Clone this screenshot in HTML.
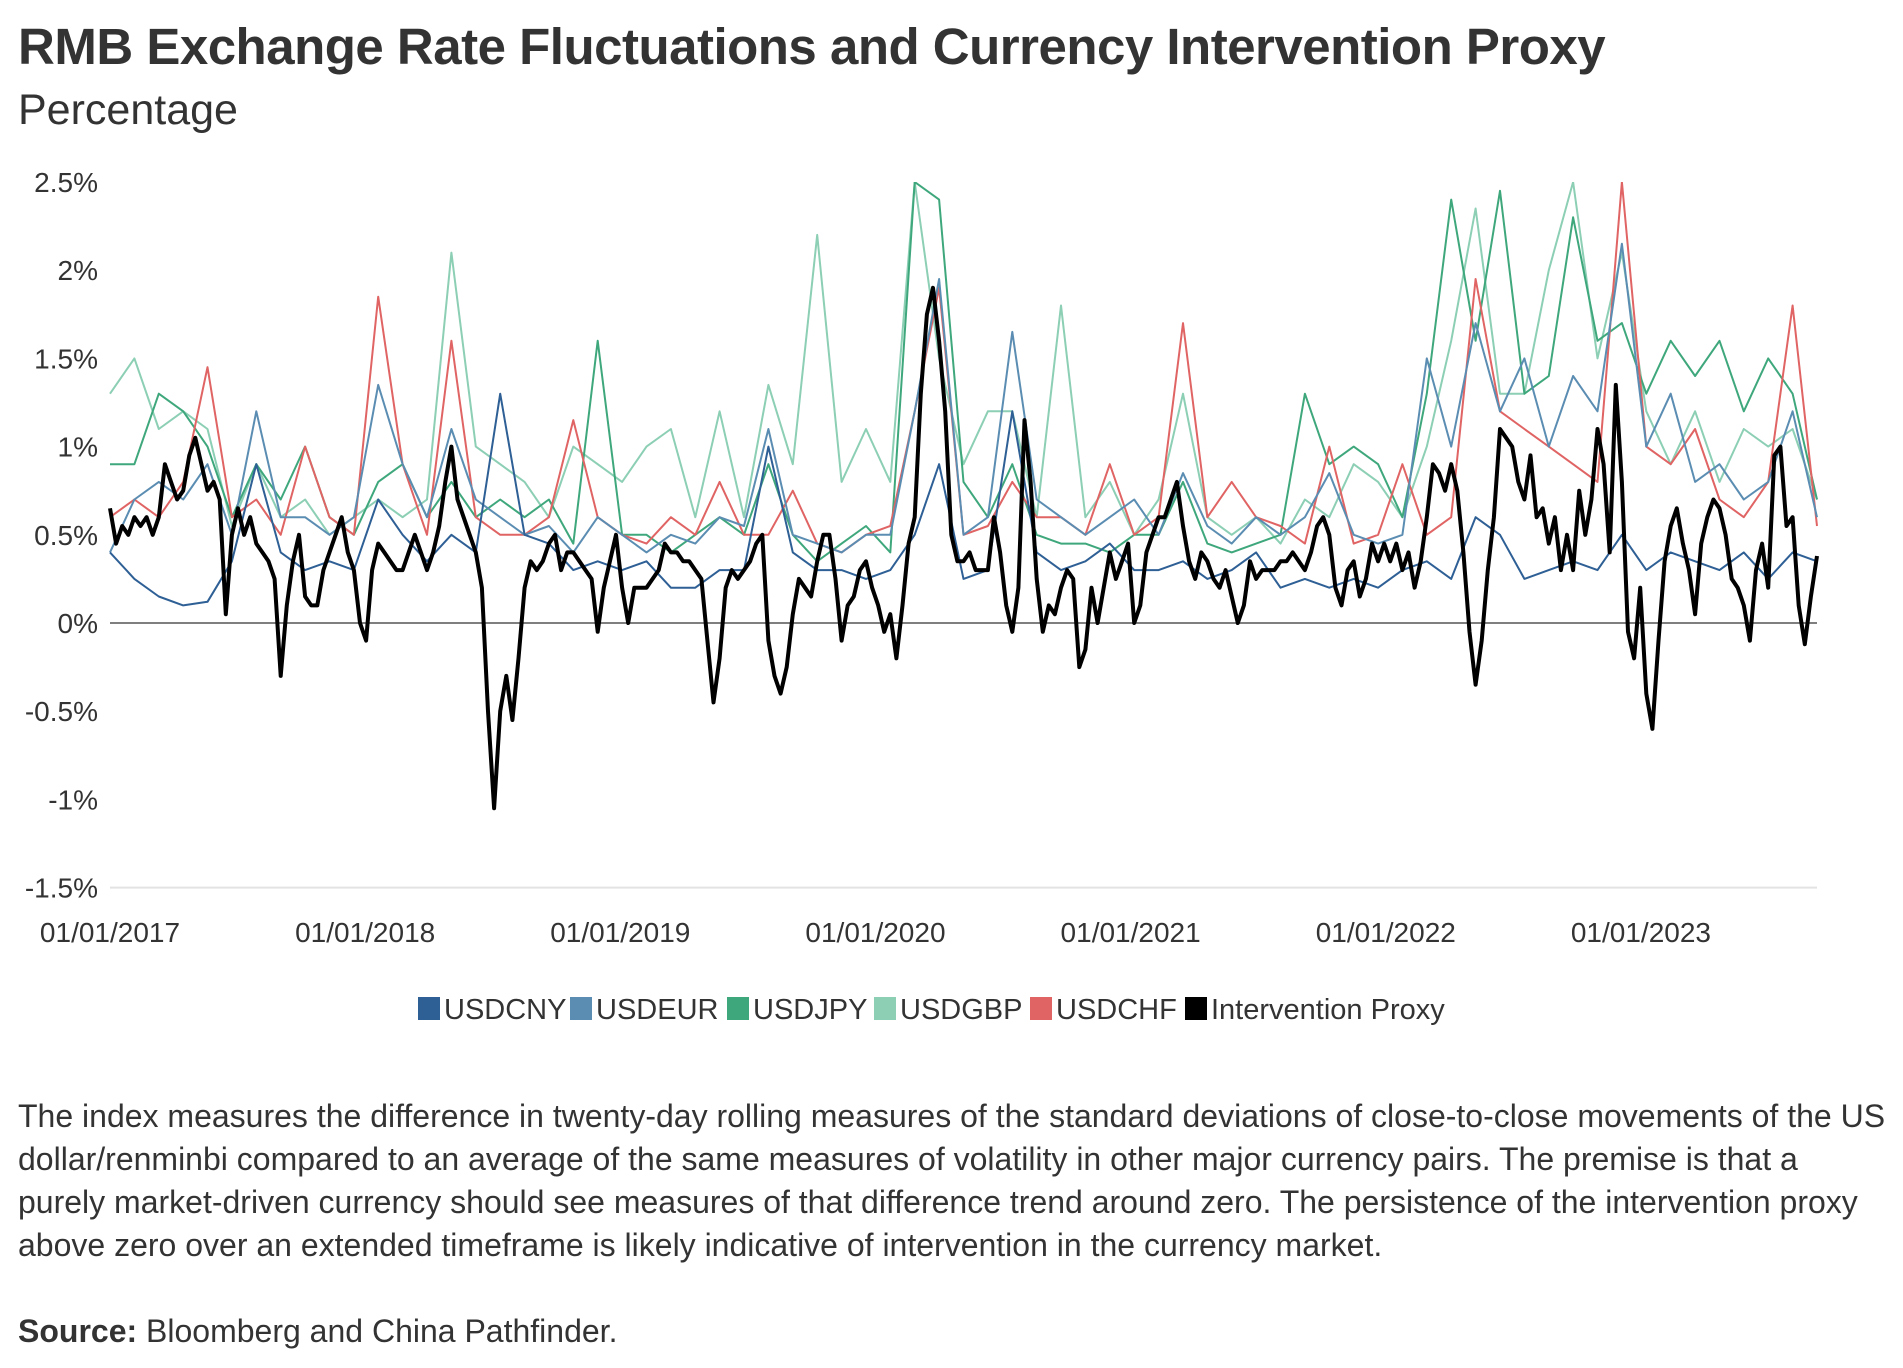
<!DOCTYPE html>
<html><head><meta charset="utf-8">
<style>
html,body{margin:0;padding:0;background:#fff;}
body{width:1903px;height:1368px;overflow:hidden;font-family:"Liberation Sans",sans-serif;color:#333;position:relative;}
#title{position:absolute;left:18px;top:17px;font-size:51px;font-weight:bold;color:#333;letter-spacing:-0.5px;white-space:nowrap;}
#subtitle{position:absolute;left:18px;top:86px;font-size:43px;color:#333;}
#desc{position:absolute;left:18px;top:1095px;width:1885px;font-size:32px;line-height:43px;color:#333;white-space:nowrap;}
#source{position:absolute;left:18px;top:1313px;font-size:32px;color:#333;}
svg{position:absolute;left:0;top:0;}
</style></head><body>
<div id="title">RMB Exchange Rate Fluctuations and Currency Intervention Proxy</div>
<div id="subtitle">Percentage</div>
<svg id="chart" width="1903" height="1368"></svg>
<div id="desc">The index measures the difference in twenty-day rolling measures of the standard deviations of close-to-close movements of the US<br>dollar/renminbi compared to an average of the same measures of volatility in other major currency pairs. The premise is that a<br>purely market-driven currency should see measures of that difference trend around zero. The persistence of the intervention proxy<br>above zero over an extended timeframe is likely indicative of intervention in the currency market.</div>
<div id="source"><b>Source:</b> Bloomberg and China Pathfinder.</div>
<script>
const yTicks=[2.5,2,1.5,1,0.5,0,-0.5,-1,-1.5];
const yTickLabels=["2.5%","2%","1.5%","1%","0.5%","0%","-0.5%","-1%","-1.5%"];
const xTickYears=[2017,2018,2019,2020,2021,2022,2023];
const xTickLabels=["01/01/2017","01/01/2018","01/01/2019","01/01/2020","01/01/2021","01/01/2022","01/01/2023"];
const startYear=2017.0, endYear=2023.69;
const seriesNames=["USDCNY","USDEUR","USDJPY","USDGBP","USDCHF","Intervention Proxy"];
const usdcny=[0.4,0.25,0.15,0.1,0.12,0.35,0.9,0.4,0.3,0.35,0.3,0.7,0.5,0.35,0.5,0.4,1.3,0.5,0.45,0.3,0.35,0.3,0.35,0.2,0.2,0.3,0.3,1.0,0.4,0.3,0.3,0.25,0.3,0.5,0.9,0.25,0.3,1.2,0.4,0.3,0.35,0.45,0.3,0.3,0.35,0.25,0.3,0.4,0.2,0.25,0.2,0.25,0.2,0.3,0.35,0.25,0.6,0.5,0.25,0.3,0.35,0.3,0.5,0.3,0.4,0.35,0.3,0.4,0.25,0.4,0.35];
const usdeur=[0.4,0.7,0.8,0.7,0.9,0.5,1.2,0.6,0.6,0.5,0.6,1.35,0.9,0.6,1.1,0.7,0.6,0.5,0.55,0.4,0.6,0.5,0.4,0.5,0.45,0.6,0.55,1.1,0.5,0.45,0.4,0.5,0.5,1.2,1.95,0.5,0.6,1.65,0.7,0.6,0.5,0.6,0.7,0.5,0.85,0.55,0.45,0.6,0.5,0.6,0.85,0.5,0.45,0.5,1.5,1.0,1.7,1.2,1.5,1.0,1.4,1.2,2.15,1.0,1.3,0.8,0.9,0.7,0.8,1.2,0.6];
const usdjpy=[0.9,0.9,1.3,1.2,1.0,0.6,0.9,0.7,1.0,0.6,0.5,0.8,0.9,0.6,0.8,0.6,0.7,0.6,0.7,0.45,1.6,0.5,0.5,0.4,0.5,0.6,0.5,0.9,0.5,0.35,0.45,0.55,0.4,2.5,2.4,0.8,0.6,0.9,0.5,0.45,0.45,0.4,0.5,0.5,0.8,0.45,0.4,0.45,0.5,1.3,0.9,1.0,0.9,0.6,1.3,2.4,1.6,2.45,1.3,1.4,2.3,1.6,1.7,1.3,1.6,1.4,1.6,1.2,1.5,1.3,0.7];
const usdgbp=[1.3,1.5,1.1,1.2,1.1,0.55,0.9,0.6,0.7,0.5,0.6,0.7,0.6,0.7,2.1,1.0,0.9,0.8,0.6,1.0,0.9,0.8,1.0,1.1,0.6,1.2,0.6,1.35,0.9,2.2,0.8,1.1,0.8,2.5,1.5,0.9,1.2,1.2,0.6,1.8,0.6,0.8,0.5,0.7,1.3,0.6,0.5,0.6,0.45,0.7,0.6,0.9,0.8,0.6,1.0,1.6,2.35,1.3,1.3,2.0,2.5,1.5,2.1,1.2,0.9,1.2,0.8,1.1,1.0,1.1,0.7];
const usdchf=[0.6,0.7,0.6,0.8,1.45,0.6,0.7,0.5,1.0,0.6,0.5,1.85,0.9,0.5,1.6,0.6,0.5,0.5,0.6,1.15,0.6,0.5,0.45,0.6,0.5,0.8,0.5,0.5,0.75,0.45,0.4,0.5,0.55,1.2,1.9,0.5,0.55,0.8,0.6,0.6,0.5,0.9,0.5,0.6,1.7,0.6,0.8,0.6,0.55,0.45,1.0,0.45,0.5,0.9,0.5,0.6,1.95,1.2,1.1,1.0,0.9,0.8,2.5,1.0,0.9,1.1,0.7,0.6,0.8,1.8,0.55];
const proxy=[0.65,0.45,0.55,0.5,0.6,0.55,0.6,0.5,0.6,0.9,0.8,0.7,0.75,0.95,1.05,0.9,0.75,0.8,0.7,0.05,0.5,0.65,0.5,0.6,0.45,0.4,0.35,0.25,-0.3,0.1,0.35,0.5,0.15,0.1,0.1,0.3,0.4,0.5,0.6,0.4,0.3,0.0,-0.1,0.3,0.45,0.4,0.35,0.3,0.3,0.4,0.5,0.4,0.3,0.4,0.55,0.8,1.0,0.7,0.6,0.5,0.4,0.2,-0.5,-1.05,-0.5,-0.3,-0.55,-0.2,0.2,0.35,0.3,0.35,0.45,0.5,0.3,0.4,0.4,0.35,0.3,0.25,-0.05,0.2,0.35,0.5,0.2,0.0,0.2,0.2,0.2,0.25,0.3,0.45,0.4,0.4,0.35,0.35,0.3,0.25,-0.1,-0.45,-0.2,0.2,0.3,0.25,0.3,0.35,0.45,0.5,-0.1,-0.3,-0.4,-0.25,0.05,0.25,0.2,0.15,0.35,0.5,0.5,0.25,-0.1,0.1,0.15,0.3,0.35,0.2,0.1,-0.05,0.05,-0.2,0.1,0.45,0.6,1.3,1.75,1.9,1.6,1.2,0.5,0.35,0.35,0.4,0.3,0.3,0.3,0.6,0.4,0.1,-0.05,0.2,1.15,0.8,0.25,-0.05,0.1,0.05,0.2,0.3,0.25,-0.25,-0.15,0.2,0.0,0.2,0.4,0.25,0.35,0.45,0.0,0.1,0.4,0.5,0.6,0.6,0.7,0.8,0.55,0.35,0.25,0.4,0.35,0.25,0.2,0.3,0.15,0.0,0.1,0.35,0.25,0.3,0.3,0.3,0.35,0.35,0.4,0.35,0.3,0.4,0.55,0.6,0.5,0.2,0.1,0.3,0.35,0.15,0.25,0.45,0.35,0.45,0.35,0.45,0.3,0.4,0.2,0.35,0.6,0.9,0.85,0.75,0.9,0.75,0.4,-0.05,-0.35,-0.1,0.3,0.6,1.1,1.05,1.0,0.8,0.7,0.95,0.6,0.65,0.45,0.6,0.3,0.5,0.3,0.75,0.5,0.7,1.1,0.9,0.4,1.35,0.8,-0.05,-0.2,0.2,-0.4,-0.6,-0.1,0.35,0.55,0.65,0.45,0.3,0.05,0.45,0.6,0.7,0.65,0.5,0.25,0.2,0.1,-0.1,0.3,0.45,0.2,0.95,1.0,0.55,0.6,0.1,-0.12,0.15,0.38];

const X0=110,X1=1817,YZ=623,PER=176.4;
function xScale(yr){return X0+(yr-startYear)/(endYear-startYear)*(X1-X0);}
function yScale(v){return YZ-v*PER;}
const NS="http://www.w3.org/2000/svg";
const svg=document.getElementById('chart');
function mk(tag,attrs){const e=document.createElementNS(NS,tag);for(const k in attrs)e.setAttribute(k,attrs[k]);return e;}
const defs=mk('defs',{});const cp=mk('clipPath',{id:'plotclip'});
cp.appendChild(mk('rect',{x:X0-2,y:yScale(2.5),width:X1-X0+4,height:yScale(-1.5)-yScale(2.5)}));
defs.appendChild(cp);svg.appendChild(defs);
yTicks.forEach((v,i)=>{
  const t=mk('text',{x:98,y:yScale(v)+10,'text-anchor':'end','font-size':'28','fill':'#333','font-family':'Liberation Sans, sans-serif'});
  
  
  t.textContent=yTickLabels[i];svg.appendChild(t);
});
const grid=mk('line',{x1:X0,x2:X1,y1:yScale(-1.5),y2:yScale(-1.5),stroke:'#e3e3e3','stroke-width':2});


svg.appendChild(grid);
xTickYears.forEach((yr,i)=>{
  const t=mk('text',{x:xScale(yr),y:942,'text-anchor':'middle','font-size':'28','fill':'#333','font-family':'Liberation Sans, sans-serif'});
  
  
  t.textContent=xTickLabels[i];svg.appendChild(t);
});
const g=mk('g',{'clip-path':'url(#plotclip)'});svg.appendChild(g);
function drawLine(vals,color,w,name){
  const n=vals.length;let d='';
  vals.forEach((v,i)=>{const yr=startYear+i*(endYear-startYear)/(n-1);d+=(i?'L':'M')+xScale(yr).toFixed(1)+','+yScale(v).toFixed(1);});
  const p=mk('path',{d:d,fill:'none',stroke:color,'stroke-width':w,'stroke-linejoin':'round'});
  
  
  g.appendChild(p);
}
const colors=["#2e5f95","#5b8db2","#3fa77c","#8ccfb5","#e06464","#000"];
drawLine(usdgbp,colors[3],2,'series-usdgbp');
drawLine(usdjpy,colors[2],2,'series-usdjpy');
drawLine(usdchf,colors[4],2,'series-usdchf');
drawLine(usdeur,colors[1],2,'series-usdeur');
drawLine(usdcny,colors[0],2,'series-usdcny');
const zl=mk('line',{x1:X0,x2:X1,y1:yScale(0),y2:yScale(0),stroke:'#555','stroke-width':1.5});


g.appendChild(zl);
drawLine(proxy,colors[5],4,'series-intervention-proxy');
const lg=mk('g',{});


svg.appendChild(lg);
const legendX=[418,570,727,874,1030,1185];
seriesNames.forEach((nm,i)=>{
  const r=mk('rect',{x:legendX[i],y:997,width:22,height:23,fill:colors[i]});
  
  
  lg.appendChild(r);
  const t=mk('text',{x:legendX[i]+26,y:1019,'font-size':'29','fill':'#333','font-family':'Liberation Sans, sans-serif'});
  
  
  t.textContent=nm;lg.appendChild(t);
});
</script>
</body></html>
